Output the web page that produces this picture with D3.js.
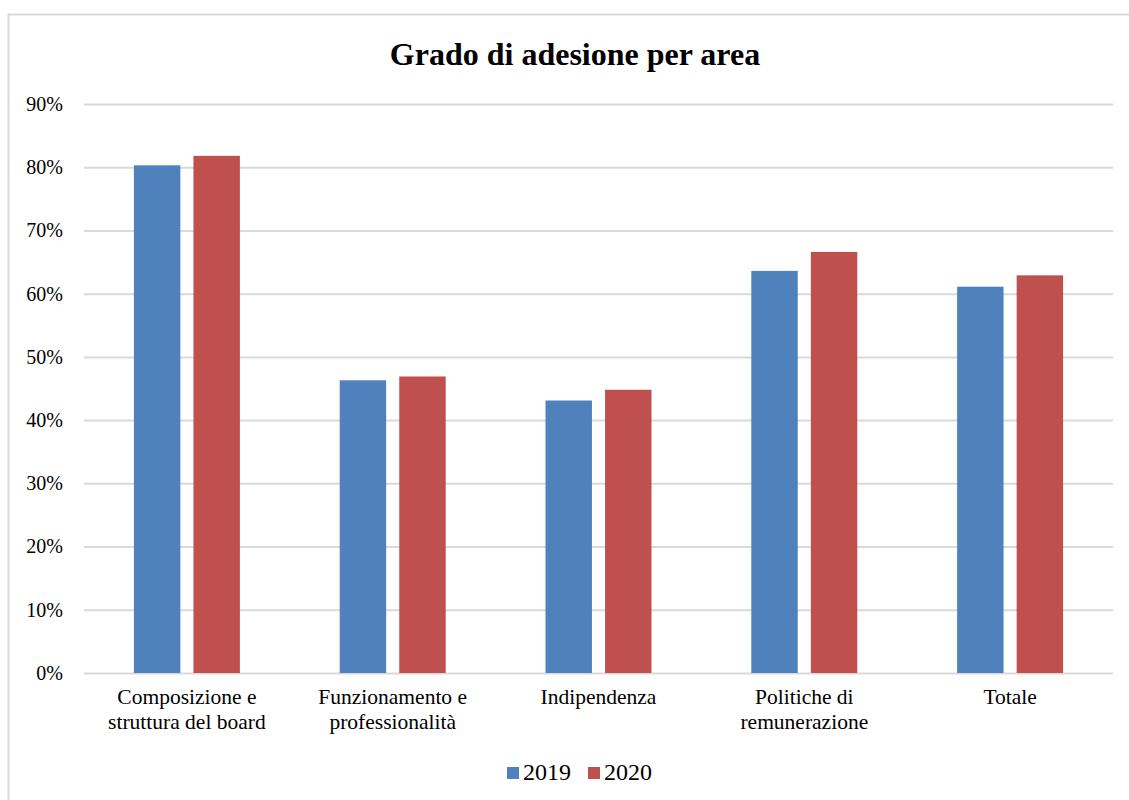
<!DOCTYPE html>
<html>
<head>
<meta charset="utf-8">
<script src="https://cdn.jsdelivr.net/npm/d3@7"></script>
<style>
  body { margin: 0; background: #fff; }
  svg { display: block; font-family: "Liberation Serif", "Times New Roman", serif; }
</style>
</head>
<body>
<svg id="drawing_region"></svg>
<script>
const categories = [
    ["Composizione e", "struttura del board"],
    ["Funzionamento e", "professionalità"],
    ["Indipendenza"],
    ["Politiche di", "remunerazione"],
    ["Totale"]
];
const series = ["2019", "2020"];
const values2019 = [0.803, 0.463, 0.431, 0.636, 0.611];
const values2020 = [0.818, 0.469, 0.448, 0.666, 0.629];
const yTicks = [0, 0.1, 0.2, 0.3, 0.4, 0.5, 0.6, 0.7, 0.8, 0.9];
const colors = ["#4f81bd", "#c0504d"];

const config = {
    width: 1129,
    height: 800,
    margin: {top: 104, right: 16, bottom: 127, left: 84}
};

const svg = d3.select('#drawing_region')
    .attr('width', config.width)
    .attr('height', config.height);

// chart frame (only top and left edges fall inside the picture)
svg.append('rect')
    .attr('x', 8.5).attr('y', 14.5)
    .attr('width', 1200).attr('height', 900)
    .attr('fill', 'none')
    .attr('stroke', '#d9d9d9')
    .attr('stroke-width', 2);

const inner_width = config.width - config.margin.left - config.margin.right;
const inner_height = config.height - config.margin.top - config.margin.bottom;

const chart = svg.append('g')
    .attr('transform', `translate(${config.margin.left}, ${config.margin.top})`);

const keys = categories.map((c, i) => i);

const xscale = d3.scaleBand()
    .domain(keys)
    .range([0, inner_width]);

const xinner = d3.scaleBand()
    .domain(series)
    .range([xscale.bandwidth() / 2 - 53, xscale.bandwidth() / 2 + 53])
    .paddingInner(0.22);

const yscale = d3.scaleLinear()
    .domain([0, 0.9])
    .range([inner_height, 0]);

// gridlines + y labels
const yaxis = d3.axisLeft(yscale)
    .tickValues(yTicks)
    .tickSize(-inner_width)
    .tickPadding(21)
    .tickFormat(d3.format('.0%'));

const yaxis_group = chart.append('g').call(yaxis);
yaxis_group.attr('font-family', '"Liberation Serif", serif');
yaxis_group.select('.domain').remove();
yaxis_group.selectAll('.tick line')
    .attr('stroke', '#d9d9d9')
    .attr('stroke-width', 2);
yaxis_group.selectAll('.tick text')
    .attr('font-size', '20px')
    .attr('fill', '#000');

// bars
const rows = keys.map(i => ({i: i, vals: [values2019[i], values2020[i]]}));

const groups = chart.selectAll('.cat')
    .data(rows)
    .enter()
    .append('g')
    .attr('transform', d => `translate(${xscale(d.i)}, 0)`);

groups.selectAll('rect')
    .data(d => d.vals.map((v, k) => ({s: series[k], v: v, k: k})))
    .enter()
    .append('rect')
    .attr('x', d => xinner(d.s))
    .attr('y', d => yscale(d.v))
    .attr('width', xinner.bandwidth())
    .attr('height', d => inner_height - yscale(d.v))
    .attr('fill', d => colors[d.k]);

// category labels
const labels = chart.selectAll('.xlab')
    .data(categories)
    .enter()
    .append('text')
    .attr('text-anchor', 'middle')
    .attr('font-size', '21.5px')
    .attr('fill', '#000')
    .attr('transform', (d, i) => `translate(${xscale(i) + xscale.bandwidth() / 2}, ${inner_height + 31})`);

labels.selectAll('tspan')
    .data(d => d)
    .enter()
    .append('tspan')
    .attr('x', 0)
    .attr('dy', (d, i) => i === 0 ? 0 : 25)
    .text(d => d);

// title
svg.append('text')
    .attr('x', 575)
    .attr('y', 65)
    .attr('text-anchor', 'middle')
    .attr('font-size', '32px')
    .attr('font-weight', 700)
    .attr('fill', '#000')
    .text('Grado di adesione per area');

// legend
const legend = svg.append('g')
    .attr('transform', 'translate(507, 780)');

const legend_items = legend.selectAll('g')
    .data(series)
    .enter()
    .append('g')
    .attr('transform', (d, i) => `translate(${i * 81}, 0)`);

legend_items.append('rect')
    .attr('x', 0).attr('y', -13)
    .attr('width', 12).attr('height', 12)
    .attr('fill', (d, i) => colors[i]);

legend_items.append('text')
    .attr('x', 16)
    .attr('y', 0)
    .attr('font-size', '24px')
    .attr('fill', '#000')
    .text(d => d);
</script>
</body>
</html>
